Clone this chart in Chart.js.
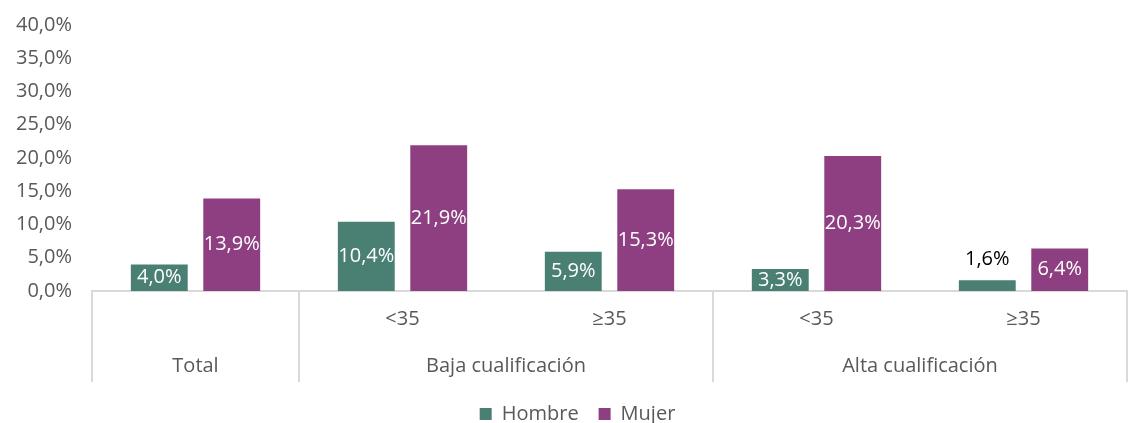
<!DOCTYPE html>
<html>
<head>
<meta charset="utf-8">
<script src="https://cdn.jsdelivr.net/npm/chart.js@4/dist/chart.umd.min.js"></script>
<style>
html,body{margin:0;padding:0;background:#fff;}
#wrap{width:1136px;height:423px;position:relative;}
</style>
</head>
<body>
<div id="wrap"><canvas id="c"></canvas></div>
<script>
// ---- data ----
const subLabels = ['', '<35', '\u226535', '<35', '\u226535'];
const groupLabels = ['Total', 'Baja cualificación', 'Alta cualificación'];
const groupStart = [0, 1, 3];
const groupEnd = [0, 2, 4];
const hombre = [4.0, 10.4, 5.9, 3.3, 1.6];
const mujer = [13.9, 21.9, 15.3, 20.3, 6.4];
const seriesNames = ['Hombre', 'Mujer'];
const yTicks = [0, 5, 10, 15, 20, 25, 30, 35, 40];

const TEAL = '#4a7f74';
const PURPLE = '#8e3f81';
const GREY = '#595959';
const LINE = '#d9d9d9';
const FONT = '"Open Sans"';
const FS = 20;

function fmt(v){ return v.toFixed(1).replace('.', ',') + '%'; }

const labelsPlugin = {
  id: 'valueLabels',
  afterDatasetsDraw(chart){
    const ctx = chart.ctx;
    ctx.save();
    ctx.font = FS + 'px ' + FONT;
    ctx.textAlign = 'center';
    ctx.textBaseline = 'middle';
    chart.data.datasets.forEach((ds, di) => {
      const meta = chart.getDatasetMeta(di);
      meta.data.forEach((bar, i) => {
        const v = ds.data[i];
        const h = bar.base - bar.y;
        if (h < 20) {
          ctx.fillStyle = '#000';
          ctx.fillText(fmt(v), bar.x, bar.y - 21);
        } else {
          ctx.fillStyle = '#fff';
          ctx.fillText(fmt(v), bar.x, (bar.y + bar.base) / 2);
        }
      });
    });
    ctx.restore();
  }
};

const groupPlugin = {
  id: 'groupAxis',
  afterLayout(chart){
    if (chart.legend) { chart.legend.left += 14; chart.legend.right += 14; }
  },
  afterDraw(chart){
    const ctx = chart.ctx;
    const xs = chart.scales.x;
    const top = chart.chartArea.bottom;
    const bottom = top + 91;
    const half = (xs.getPixelForValue(1) - xs.getPixelForValue(0)) / 2;
    ctx.save();
    ctx.strokeStyle = LINE;
    ctx.lineWidth = 2;
    const edges = [xs.getPixelForValue(0) - half];
    groupEnd.forEach(e => edges.push(xs.getPixelForValue(e) + half));
    edges.forEach(x => {
      ctx.beginPath();
      ctx.moveTo(Math.round(x), top);
      ctx.lineTo(Math.round(x), bottom);
      ctx.stroke();
    });
    ctx.fillStyle = GREY;
    ctx.font = FS + 'px ' + FONT;
    ctx.textAlign = 'center';
    ctx.textBaseline = 'middle';
    groupLabels.forEach((g, k) => {
      const x = (xs.getPixelForValue(groupStart[k]) + xs.getPixelForValue(groupEnd[k])) / 2;
      ctx.fillText(g, x, top + 75);
    });
    ctx.restore();
  }
};

new Chart(document.getElementById('c'), {
  type: 'bar',
  data: {
    labels: subLabels,
    datasets: [
      { label: seriesNames[0], data: hombre, backgroundColor: TEAL },
      { label: seriesNames[1], data: mujer, backgroundColor: PURPLE }
    ]
  },
  options: {
    responsive: true,
    maintainAspectRatio: false,
    animation: false,
    devicePixelRatio: 1,
    layout: { padding: { top: 25, right: 9, left: 0, bottom: -11 } },
    datasets: { bar: { categoryPercentage: 0.70, barPercentage: 0.785 } },
    scales: {
      x: {
        grid: { display: false },
        border: { display: true, color: LINE, width: 2 },
        ticks: { color: GREY, font: { family: 'Open Sans', size: FS }, padding: 8, maxRotation: 0, autoSkip: false },
        afterFit(scale){ scale.height = 93; scale.paddingLeft = 0; scale.paddingRight = 0; }
      },
      y: {
        min: 0, max: 40,
        afterBuildTicks(scale){ scale.ticks = yTicks.map(v => ({ value: v })); },
        grid: { display: false, drawTicks: false },
        border: { display: false },
        ticks: { color: GREY, font: { family: 'Open Sans', size: FS }, padding: 20,
                 callback: v => fmt(v) },
        afterFit(scale){ scale.width = 92; scale.paddingTop = 0; scale.paddingBottom = 0; }
      }
    },
    plugins: {
      legend: {
        position: 'bottom',
        labels: { color: GREY, font: { family: 'Open Sans', size: FS }, boxWidth: 12, boxHeight: 12, padding: 20 }
      },
      tooltip: { enabled: false }
    }
  },
  plugins: [labelsPlugin, groupPlugin]
});
</script>
</body>
</html>
